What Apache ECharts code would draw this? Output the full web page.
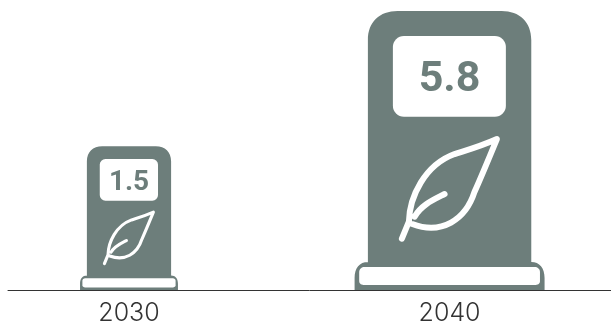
<!DOCTYPE html>
<html>
<head>
<meta charset="utf-8">
<script src="https://cdn.jsdelivr.net/npm/echarts@6/dist/echarts.min.js"></script>
<style>html,body{margin:0;padding:0;background:#fff}#c{width:611px;height:326px}</style>
</head>
<body>
<div id="c"></div>
<script>
// Fuel-pump pictogram chart: each pump's height grows with the value, so its area tracks the number.
const years = [2030, 2040];
const values = [1.5, 5.8];
const valueLabels = ['1.5', '5.8'];

const sizeExponent = 0.49;
const pumpGrey = '#6d7e7b';
const inkColor = '#333333';

// Pump artwork in a local frame: origin at the bottom centre, full height 279 units.
const FULL = 279;
const bodyPath = 'M-81.7 -8 L-81.7 -250 C-81.7 -268 -70 -279 -52 -279 L52 -279 C70 -279 81.7 -268 81.7 -250 L81.7 -28 C90 -28 95 -22 95 -12 L95 0 L-95 0 L-95 -12 C-95 -22 -90 -28 -81.7 -28 Z';
const basePath = 'M-85 -23 L85 -23 C88 -23 90.4 -21 90.4 -18 L90.4 -9 C90.4 -6 88 -5 85 -5 L-85 -5 C-88 -5 -90.4 -6 -90.4 -9 L-90.4 -18 C-90.4 -21 -88 -23 -85 -23 Z';
const screen = { x: -56.7, y: -254, width: 113, height: 80.7, r: 11 };
const leafPath = 'M-47.7 -51.3 L-40.7 -68.3 C-40 -93.3 -25 -125 5 -136 C20 -140.7 30 -143.3 47.3 -151 C40 -133.3 31.7 -113.3 25 -98.3 C16 -70 -8 -55 -37.3 -66 M-35 -73.3 C-28.3 -85 -16.7 -90 -5 -96';

const chart = echarts.init(document.getElementById('c'), null, { renderer: 'canvas' });

function renderPump(params, api) {
  const base = api.coord([api.value(0), 0]);
  const height = api.size([0, Math.pow(api.value(1), sizeExponent)])[1];
  const s = height / FULL;
  // Numbers stay legible on the small pump, so the type shrinks more slowly than the artwork.
  const fontSize = 12 + 31 * s;
  return {
    type: 'group',
    x: base[0],
    y: base[1],
    scaleX: s,
    scaleY: s,
    children: [
      { type: 'path', shape: { pathData: bodyPath, x: -95, y: -279, width: 190, height: 279, layout: 'cover' }, style: { fill: pumpGrey } },
      { type: 'path', shape: { pathData: basePath, x: -90.4, y: -23, width: 180.8, height: 18, layout: 'cover' }, style: { fill: '#fff' } },
      { type: 'rect', shape: { x: screen.x, y: screen.y, width: screen.width, height: screen.height, r: screen.r }, style: { fill: '#fff' } },
      { type: 'text', x: 0, y: screen.y + screen.height / 2 + 3.5 / s, style: {
        text: valueLabels[params.dataIndex], fill: pumpGrey, align: 'center', verticalAlign: 'middle',
        font: '700 ' + (fontSize / s) + 'px Roboto, sans-serif'
      } },
      { type: 'path', shape: { pathData: leafPath, x: -47.7, y: -151, width: 95, height: 99.7, layout: 'cover' }, style: { fill: 'none', stroke: '#fff', lineWidth: 6, lineCap: 'round', lineJoin: 'round' } }
    ]
  };
}

chart.setOption({
  animation: false,
  grid: { left: 8, right: 0, top: 0, height: 290 },
  xAxis: {
    type: 'value',
    min: 2026.226,
    max: 2045.035,
    splitLine: { show: false },
    axisTick: { show: false },
    axisLine: { show: true, lineStyle: { color: inkColor, width: 1 } },
    axisLabel: {
      customValues: years,
      color: inkColor,
      fontFamily: 'Inter',
      fontWeight: 300,
      fontSize: 25,
      margin: 11,
      formatter: v => String(v)
    }
  },
  yAxis: { type: 'value', min: 0, max: 2.46, show: false },
  series: [{
    type: 'custom',
    clip: false,
    renderItem: renderPump,
    encode: { x: 0, y: 1 },
    data: years.map((y, i) => [y, values[i]])
  }]
});
</script>
</body>
</html>
